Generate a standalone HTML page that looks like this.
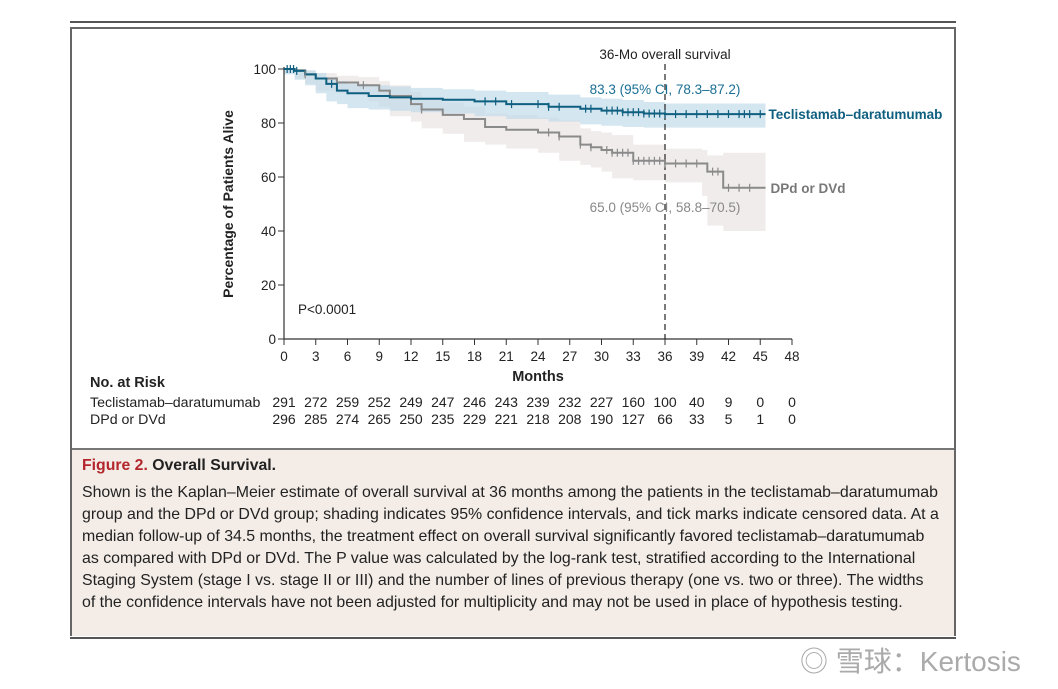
<!DOCTYPE html>
<html><head><meta charset="utf-8"><style>
body{margin:0;width:1058px;height:689px;background:#fff;overflow:hidden;font-family:"Liberation Sans","Noto Sans CJK SC",sans-serif;position:relative}
.abs{position:absolute}
.cap{position:absolute;left:82px;font-size:15.9px;color:#222;white-space:nowrap}
</style></head><body>
<div class="abs" style="left:70px;top:21px;width:886px;height:2px;background:#555"></div>
<div class="abs" style="left:70px;top:27px;width:882px;height:605px;border:2px solid #666"></div>
<div class="abs" style="left:72px;top:448px;width:882px;height:186px;background:#f4ede7;border-top:2px solid #777"></div>
<div class="abs" style="left:70px;top:637px;width:886px;height:2px;background:#555"></div>

<svg class="abs" style="left:0;top:0" width="1058" height="450" id="chart"></svg>

<div class="cap" style="top:457px;font-size:15.8px;font-weight:bold"><span style="color:#b3262c">Figure 2.</span> Overall Survival.</div>
<div class="cap" style="top:484px">Shown is the Kaplan–Meier estimate of overall survival at 36 months among the patients in the teclistamab–daratumumab</div>
<div class="cap" style="top:506px">group and the DPd or DVd group; shading indicates 95% confidence intervals, and tick marks indicate censored data. At a</div>
<div class="cap" style="top:528px">median follow-up of 34.5 months, the treatment effect on overall survival significantly favored teclistamab–daratumumab</div>
<div class="cap" style="top:550px">as compared with DPd or DVd. The P value was calculated by the log-rank test, stratified according to the International</div>
<div class="cap" style="top:572px">Staging System (stage I vs. stage II or III) and the number of lines of previous therapy (one vs. two or three). The widths</div>
<div class="cap" style="top:594px">of the confidence intervals have not been adjusted for multiplicity and may not be used in place of hypothesis testing.</div>
<div class="abs" style="left:800px;top:640px;font-size:28px;color:#aaa;white-space:nowrap">◎ 雪球：Kertosis</div>

<script>
const xTicks=[0,3,6,9,12,15,18,21,24,27,30,33,36,39,42,45,48];
const yTicks=[0,20,40,60,80,100];
const tecT=[0,1,2,3,4,5,6,8,10,12,15,18,21,25,28,30,32,34,36,45.5];
const tecS=[100,99.3,98,96.5,94.5,92,91,90,89.5,89,88.6,88,87,86,85.3,84.6,84,83.5,83.3,83.3];
const tecLo=[100,98,96,94,91,88,87,85.5,85,84.5,84,83.5,82.5,81.5,80.5,79.5,79,78.5,78.3,78.3];
const tecHi=[100,100,99.5,98.5,97,95.5,94.5,94,93.5,93,92.5,92,91.5,90.5,89.5,89,88.5,87.8,87.2,87.2];
const dpT=[0,1,2,3,5,7,8,9,10,12,13,15,17,19,21,24,26,28,29,30,31,33,36,39.5,40,41.5,45.5];
const dpS=[100,99.5,98,96.5,95,94,94,92,90,87,85,83,81.5,78.5,77.5,76.5,75,72,71,70,69,66,65,65,62,56,56];
const dpLo=[100,98.5,96.5,94.5,92,91,90.5,88,86,82.5,80.5,78,76,73,72,70.5,69,66,64.5,63.5,62,59.5,58.8,58,53,42,40];
const dpHi=[100,100,99.5,98.5,97.5,97,97,95.5,94,91.5,89.5,87.5,86,83.5,83,82,81,78,77,76.5,75.5,72,70.5,70,68,69,69];
const tecCens=[0.3,0.6,0.9,1.2,4.5,19,20,21.5,24,25,26,28.5,29,30.5,31,31.5,32,32.5,33,33.5,34,34.5,35,35.5,36,37,38,39,40,41,42,43,43.5,44,45];
const dpCens=[2,7.5,13,25,26,28,29,30.5,31,31.5,32,32.5,33,33.5,34,34.5,35,35.5,36,37,38,39,40.5,41,42,43,44];
const riskTec=[291,272,259,252,249,247,246,243,239,232,227,160,100,40,9,0,0];
const riskDp=[296,285,274,265,250,235,229,221,218,208,190,127,66,33,5,1,0];

const X=m=>284+m*(508/48), Y=v=>339-v*2.7;
const svg=document.getElementById('chart');const NS='http://www.w3.org/2000/svg';
function mk(t,a,txt){const e=document.createElementNS(NS,t);for(const k in a)e.setAttribute(k,a[k]);if(txt!==undefined)e.textContent=txt;svg.appendChild(e);return e;}
function stepPath(T,S){let d='M'+X(T[0])+','+Y(S[0]);for(let i=1;i<T.length;i++){d+='H'+X(T[i])+'V'+Y(S[i]);}return d;}
function band(T,L,H){let d='M'+X(T[0])+','+Y(H[0]);for(let i=1;i<T.length;i++)d+='H'+X(T[i])+'V'+Y(H[i]);for(let i=T.length-1;i>0;i--)d+='V'+Y(L[i])+'H'+X(T[i-1]);d+='V'+Y(L[0])+'Z';return d;}
function valAt(T,S,t){let v=S[0];for(let i=0;i<T.length;i++)if(T[i]<=t)v=S[i];return v;}

let e;
e=mk('path',{d:band(dpT,dpLo,dpHi),fill:'#ebe4e4',opacity:0.7});

e=mk('path',{d:band(tecT,tecLo,tecHi),fill:'#c2dcea',opacity:0.7});

e=mk('line',{x1:284,y1:Y(100)-2,x2:284,y2:339,stroke:'#333','stroke-width':1.2});

e=mk('line',{x1:284,y1:339,x2:X(48),y2:339,stroke:'#333','stroke-width':1.2});

yTicks.forEach(v=>{mk('line',{x1:278,y1:Y(v),x2:284,y2:Y(v),stroke:'#333'});
e=mk('text',{x:276,y:Y(v)+5,'text-anchor':'end','font-size':13.5,fill:'#222'},v);
});
xTicks.forEach((m,i)=>{mk('line',{x1:X(m),y1:339,x2:X(m),y2:345,stroke:'#333'});
e=mk('text',{x:X(m),y:361,'text-anchor':'middle','font-size':13.5,fill:'#222'},m);

e=mk('text',{x:X(m),y:407,'text-anchor':'middle','font-size':14,fill:'#222'},riskTec[i]);

e=mk('text',{x:X(m),y:424,'text-anchor':'middle','font-size':14,fill:'#222'},riskDp[i]);
});
e=mk('text',{x:0,y:0,transform:'translate(233,204) rotate(-90)','text-anchor':'middle','font-size':14,'font-weight':'bold',fill:'#222'},'Percentage of Patients Alive');

e=mk('text',{x:538,y:381,'text-anchor':'middle','font-size':14.5,'font-weight':'bold',fill:'#222'},'Months');

e=mk('text',{x:90,y:387,'font-size':14.5,'font-weight':'bold',fill:'#222'},'No. at Risk');

e=mk('text',{x:90,y:407,'font-size':14.2,fill:'#222'},'Teclistamab–daratumumab');

e=mk('text',{x:90,y:424,'font-size':14.2,fill:'#222'},'DPd or DVd');

e=mk('line',{x1:X(36),y1:64,x2:X(36),y2:339,stroke:'#222','stroke-dasharray':'6,4','stroke-width':1.2});

e=mk('text',{x:X(36),y:59,'text-anchor':'middle','font-size':13.5,fill:'#222'},'36-Mo overall survival');

e=mk('path',{d:stepPath(dpT,dpS),fill:'none',stroke:'#8a8a8a','stroke-width':2});

e=mk('path',{d:stepPath(tecT,tecS),fill:'none',stroke:'#0f5f80','stroke-width':2});

dpCens.forEach(t=>{const v=valAt(dpT,dpS,t);e=mk('line',{x1:X(t),y1:Y(v)-4,x2:X(t),y2:Y(v)+4,stroke:'#8a8a8a','stroke-width':1.2});
});
tecCens.forEach(t=>{const v=valAt(tecT,tecS,t);e=mk('line',{x1:X(t),y1:Y(v)-4,x2:X(t),y2:Y(v)+4,stroke:'#0f5f80','stroke-width':1.2});
});
e=mk('text',{x:X(45.5)+3,y:Y(83.3)+5,'font-size':13.5,'font-weight':'bold',fill:'#0f5f80'},'Teclistamab–daratumumab');

e=mk('text',{x:X(45.5)+5,y:Y(56)+5,'font-size':13.5,'font-weight':'bold',fill:'#777'},'DPd or DVd');

e=mk('text',{x:X(36),y:94,'text-anchor':'middle','font-size':13.5,fill:'#1a6f94'},'83.3 (95% CI, 78.3–87.2)');

e=mk('text',{x:X(36),y:212,'text-anchor':'middle','font-size':13.5,fill:'#888'},'65.0 (95% CI, 58.8–70.5)');

e=mk('text',{x:298,y:314,'font-size':13.5,fill:'#222'},'P<0.0001');

</script>
</body></html>
